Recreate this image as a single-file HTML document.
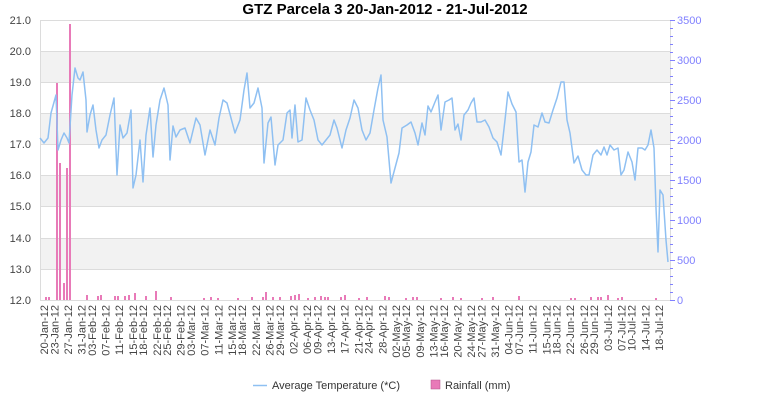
<!DOCTYPE html>
<html><head><meta charset="utf-8"><style>
body{margin:0;background:#fff;}
svg{display:block;font-family:"Liberation Sans",sans-serif;}
.xl text{font-size:11px;fill:#444;text-anchor:end;}
</style></head><body>
<svg width="770" height="400" viewBox="0 0 770 400">
<rect width="770" height="400" fill="#fff"/>
<text x="385" y="14" text-anchor="middle" font-size="15" font-weight="bold" fill="#000">GTZ Parcela 3  20-Jan-2012 - 21-Jul-2012</text>
<!-- bands -->
<g fill="#f2f2f2">
<rect x="40" y="51" width="630" height="31"/>
<rect x="40" y="113" width="630" height="31"/>
<rect x="40" y="175" width="630" height="31"/>
<rect x="40" y="238" width="630" height="31"/>
</g>
<g stroke="#dcdcdc" stroke-width="1">
<line x1="40" y1="20.5" x2="670" y2="20.5"/><line x1="40" y1="51.5" x2="670" y2="51.5"/><line x1="40" y1="82.5" x2="670" y2="82.5"/><line x1="40" y1="113.5" x2="670" y2="113.5"/><line x1="40" y1="144.5" x2="670" y2="144.5"/><line x1="40" y1="175.5" x2="670" y2="175.5"/><line x1="40" y1="206.5" x2="670" y2="206.5"/><line x1="40" y1="238.5" x2="670" y2="238.5"/><line x1="40" y1="269.5" x2="670" y2="269.5"/>
<line x1="40.5" y1="20" x2="40.5" y2="300"/><line x1="670.5" y1="20" x2="670.5" y2="300"/><line x1="40" y1="300.5" x2="670" y2="300.5"/>
</g>
<g font-size="11" fill="#444" text-anchor="end">
<text x="31" y="24">21.0</text><text x="31" y="55">20.0</text><text x="31" y="86">19.0</text><text x="31" y="117">18.0</text><text x="31" y="148">17.0</text><text x="31" y="179">16.0</text><text x="31" y="210">15.0</text><text x="31" y="242">14.0</text><text x="31" y="273">13.0</text><text x="31" y="304">12.0</text>
</g>
<g font-size="11" fill="#8080ff">
<text x="677" y="24">3500</text><text x="677" y="64">3000</text><text x="677" y="104">2500</text><text x="677" y="144">2000</text><text x="677" y="184">1500</text><text x="677" y="224">1000</text><text x="677" y="264">500</text><text x="677" y="304">0</text>
</g>
<g stroke="#8080ff" stroke-width="1">
<path d="M670 20.5h5M670 60.5h5M670 100.5h5M670 140.5h5M670 180.5h5M670 220.5h5M670 260.5h5M670 300.5h5"/>
<path d="M670 28.5h3M670 36.5h3M670 44.5h3M670 52.5h3M670 68.5h3M670 76.5h3M670 84.5h3M670 92.5h3M670 108.5h3M670 116.5h3M670 124.5h3M670 132.5h3M670 148.5h3M670 156.5h3M670 164.5h3M670 172.5h3M670 188.5h3M670 196.5h3M670 204.5h3M670 212.5h3M670 228.5h3M670 236.5h3M670 244.5h3M670 252.5h3M670 268.5h3M670 276.5h3M670 284.5h3M670 292.5h3"/>
</g>
<!-- rainfall -->
<g fill="#e87ab8">
<rect x="56" y="83" width="2" height="217"/><rect x="59" y="163" width="2" height="137"/><rect x="63" y="283" width="2" height="17"/><rect x="66" y="168" width="2" height="132"/><rect x="69" y="24" width="2" height="276"/>
<rect x="45" y="297" width="2" height="3"/><rect x="48" y="297" width="2" height="3"/><rect x="86" y="295" width="2" height="5"/><rect x="97" y="296" width="2" height="4"/><rect x="100" y="295" width="2" height="5"/><rect x="114" y="296" width="2" height="4"/><rect x="117" y="296" width="2" height="4"/><rect x="124" y="296" width="2" height="4"/><rect x="128" y="295" width="2" height="5"/><rect x="134" y="293" width="2" height="7"/><rect x="145" y="296" width="2" height="4"/><rect x="155" y="291" width="2" height="9"/><rect x="170" y="297" width="2" height="3"/><rect x="203" y="298" width="2" height="2"/><rect x="210" y="297" width="2" height="3"/><rect x="217" y="298" width="2" height="2"/><rect x="237" y="298" width="2" height="2"/><rect x="251" y="297" width="2" height="3"/><rect x="262" y="297" width="2" height="3"/><rect x="265" y="292" width="2" height="8"/><rect x="272" y="297" width="2" height="3"/><rect x="279" y="297" width="2" height="3"/><rect x="290" y="296" width="2" height="4"/><rect x="294" y="295" width="2" height="5"/><rect x="298" y="294" width="2" height="6"/><rect x="307" y="298" width="2" height="2"/><rect x="314" y="297" width="2" height="3"/><rect x="320" y="296" width="2" height="4"/><rect x="324" y="297" width="2" height="3"/><rect x="327" y="297" width="2" height="3"/><rect x="340" y="297" width="2" height="3"/><rect x="344" y="295" width="2" height="5"/><rect x="358" y="298" width="2" height="2"/><rect x="366" y="297" width="2" height="3"/><rect x="384" y="296" width="2" height="4"/><rect x="388" y="297" width="2" height="3"/><rect x="405" y="298" width="2" height="2"/><rect x="412" y="297" width="2" height="3"/><rect x="416" y="297" width="2" height="3"/><rect x="440" y="298" width="2" height="2"/><rect x="452" y="297" width="2" height="3"/><rect x="460" y="298" width="2" height="2"/><rect x="481" y="298" width="2" height="2"/><rect x="492" y="297" width="2" height="3"/><rect x="518" y="296" width="2" height="4"/><rect x="570" y="298" width="2" height="2"/><rect x="574" y="298" width="2" height="2"/><rect x="590" y="297" width="2" height="3"/><rect x="597" y="297" width="2" height="3"/><rect x="600" y="297" width="2" height="3"/><rect x="607" y="295" width="2" height="5"/><rect x="617" y="298" width="2" height="2"/><rect x="621" y="297" width="2" height="3"/><rect x="655" y="298" width="2" height="2"/>
</g>
<!-- temperature -->
<polyline fill="none" stroke="#8fc0f2" stroke-width="1.5" stroke-linejoin="round" points="40,138 44,143 48,138 51,113 56,95 58,150 61,140 64,133 67,138 69,143 72,95 75,68 78,78 80,80 83,72 86,100 87,132 90,115 93,105 96,130 99,148 102,140 106,135 110,115 114,98 117,175 120,125 123,138 127,133 131,110 133,188 136,175 140,140 143,182 146,135 150,108 153,157 156,125 160,100 164,88 168,105 170,160 173,126 176,137 180,130 185,128 190,143 196,118 200,125 205,155 210,130 215,145 219,118 223,100 227,103 231,118 235,133 240,120 244,90 247,73 250,108 254,103 258,88 262,108 264,163 268,123 271,117 275,165 278,145 283,140 287,113 290,110 292,138 295,105 298,142 302,140 306,98 310,110 314,120 318,140 322,145 326,140 330,135 334,120 337,128 342,148 346,130 350,118 354,100 358,108 362,130 366,140 370,133 374,110 378,88 381,75 383,120 387,137 391,183 395,168 399,153 402,128 407,125 411,122 415,133 418,145 422,123 425,135 428,106 431,112 435,102 438,95 441,130 445,102 449,100 452,98 455,130 458,124 461,140 464,115 468,110 471,103 474,98 477,122 481,122 485,120 489,127 493,138 497,142 501,155 505,120 508,92 512,104 516,112 519,162 522,160 525,192 528,162 531,152 534,125 538,127 542,113 545,122 549,123 553,110 557,98 561,82 564,82 567,120 570,133 574,163 578,156 582,170 586,175 589,175 593,155 597,150 601,155 604,147 607,155 610,145 614,150 618,148 621,175 624,170 628,152 632,162 635,180 638,148 642,148 645,150 648,145 651,130 654,148 656,208 658,252 660,190 663,195 666,240 668,262"/>
<!-- x labels -->
<g class="xl">
<text transform="translate(48,305) rotate(-90)">20-Jan-12</text>
<text transform="translate(58.3,305) rotate(-90)">23-Jan-12</text>
<text transform="translate(71.9,305) rotate(-90)">27-Jan-12</text>
<text transform="translate(85.6,305) rotate(-90)">31-Jan-12</text>
<text transform="translate(95.8,305) rotate(-90)">03-Feb-12</text>
<text transform="translate(109.5,305) rotate(-90)">07-Feb-12</text>
<text transform="translate(123.2,305) rotate(-90)">11-Feb-12</text>
<text transform="translate(136.8,305) rotate(-90)">15-Feb-12</text>
<text transform="translate(147.1,305) rotate(-90)">18-Feb-12</text>
<text transform="translate(160.8,305) rotate(-90)">22-Feb-12</text>
<text transform="translate(171,305) rotate(-90)">25-Feb-12</text>
<text transform="translate(184.7,305) rotate(-90)">29-Feb-12</text>
<text transform="translate(194.9,305) rotate(-90)">03-Mar-12</text>
<text transform="translate(208.6,305) rotate(-90)">07-Mar-12</text>
<text transform="translate(222.3,305) rotate(-90)">11-Mar-12</text>
<text transform="translate(235.9,305) rotate(-90)">15-Mar-12</text>
<text transform="translate(246.2,305) rotate(-90)">18-Mar-12</text>
<text transform="translate(259.9,305) rotate(-90)">22-Mar-12</text>
<text transform="translate(273.5,305) rotate(-90)">26-Mar-12</text>
<text transform="translate(283.8,305) rotate(-90)">29-Mar-12</text>
<text transform="translate(297.4,305) rotate(-90)">02-Apr-12</text>
<text transform="translate(311.1,305) rotate(-90)">06-Apr-12</text>
<text transform="translate(321.4,305) rotate(-90)">09-Apr-12</text>
<text transform="translate(335,305) rotate(-90)">13-Apr-12</text>
<text transform="translate(348.7,305) rotate(-90)">17-Apr-12</text>
<text transform="translate(362.4,305) rotate(-90)">21-Apr-12</text>
<text transform="translate(372.6,305) rotate(-90)">24-Apr-12</text>
<text transform="translate(386.3,305) rotate(-90)">28-Apr-12</text>
<text transform="translate(400,305) rotate(-90)">02-May-12</text>
<text transform="translate(410.2,305) rotate(-90)">05-May-12</text>
<text transform="translate(423.9,305) rotate(-90)">09-May-12</text>
<text transform="translate(437.5,305) rotate(-90)">13-May-12</text>
<text transform="translate(447.8,305) rotate(-90)">16-May-12</text>
<text transform="translate(461.5,305) rotate(-90)">20-May-12</text>
<text transform="translate(475.1,305) rotate(-90)">24-May-12</text>
<text transform="translate(485.4,305) rotate(-90)">27-May-12</text>
<text transform="translate(499,305) rotate(-90)">31-May-12</text>
<text transform="translate(512.7,305) rotate(-90)">04-Jun-12</text>
<text transform="translate(523,305) rotate(-90)">07-Jun-12</text>
<text transform="translate(536.6,305) rotate(-90)">11-Jun-12</text>
<text transform="translate(550.3,305) rotate(-90)">15-Jun-12</text>
<text transform="translate(560.6,305) rotate(-90)">18-Jun-12</text>
<text transform="translate(574.2,305) rotate(-90)">22-Jun-12</text>
<text transform="translate(587.9,305) rotate(-90)">26-Jun-12</text>
<text transform="translate(598.1,305) rotate(-90)">29-Jun-12</text>
<text transform="translate(611.8,305) rotate(-90)">03-Jul-12</text>
<text transform="translate(625.5,305) rotate(-90)">07-Jul-12</text>
<text transform="translate(635.7,305) rotate(-90)">10-Jul-12</text>
<text transform="translate(649.4,305) rotate(-90)">14-Jul-12</text>
<text transform="translate(663.1,305) rotate(-90)">18-Jul-12</text>
</g>
<!-- legend -->
<line x1="253" y1="385.5" x2="267" y2="385.5" stroke="#8fc0f2" stroke-width="1.5"/>
<text x="272" y="389" font-size="11" fill="#333">Average Temperature (*C)</text>
<rect x="431" y="380" width="9" height="9" fill="#e87ab8" stroke="#b05088" stroke-width="0.5"/>
<text x="445" y="389" font-size="11" fill="#333">Rainfall (mm)</text>
</svg>
</body></html>
